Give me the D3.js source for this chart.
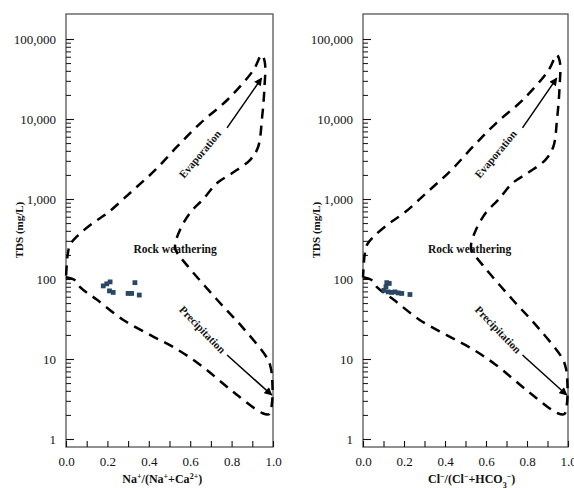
<!DOCTYPE html>
<html><head><meta charset="utf-8">
<script src="https://cdn.jsdelivr.net/npm/d3@7"></script>
<style>
body{margin:0;background:#fff}
svg{display:block}
</style>
</head><body>
<svg id="chart" width="574" height="488"></svg>
<script>
// ---- data ----
const naRatio = [0.18, 0.197, 0.213, 0.21, 0.228, 0.30, 0.317, 0.333, 0.354];
const naTDS   = [82, 87, 92, 71, 68, 66, 66, 90, 63];
const clRatio = [0.116, 0.128, 0.112, 0.102, 0.123, 0.14, 0.156, 0.172, 0.189, 0.229];
const clTDS   = [90, 88, 80, 72, 69, 68, 69, 67, 66, 64];

const yTickValues = [1, 10, 100, 1000, 10000, 100000];
const yTickLabels = ["1", "10", "100", "1,000", "10,000", "100,000"];
const xTickValues = [0, 0.1, 0.2, 0.3, 0.4, 0.5, 0.6, 0.7, 0.8, 0.9, 1.0];
const xTickLabels = ["0.0", "", "0.2", "", "0.4", "", "0.6", "", "0.8", "", "1.0"];

// Gibbs envelope (closed dashed boundary): ratio and TDS
const envRatio = [0.0, 0.045, 0.068, 0.15, 0.275, 0.406, 0.52, 0.647, 0.807, 0.95, 0.982,
                  0.995, 0.997, 0.99, 0.972, 0.855, 0.73, 0.585, 0.53,
                  0.527, 0.55, 0.6, 0.66, 0.73, 0.807, 0.89, 0.928, 0.947, 0.958, 0.96,
                  0.945,
                  0.905, 0.78, 0.65, 0.535, 0.43, 0.32, 0.198, 0.13, 0.056, 0.02,
                  0.008, 0.003, 0.0];
const envTDS   = [105, 96, 79, 55, 31, 20, 14, 8.5, 3.9, 2.1, 2.05,
                  2.8, 5.0, 7.6, 10.2, 24.5, 55, 148, 229,
                  269, 407, 676, 977, 1585, 2138, 3090, 4467, 10230, 22900, 52000,
                  63000,
                  40700, 17400, 8900, 4470, 2290, 1260, 661, 501, 347, 269,
                  200, 141, 105];

const arrowEvap   = {ratio: [0.778, 0.945], tds: [7760, 32400]};
const arrowPrecip = {ratio: [0.778, 0.994], tds: [11.2, 3.55]};

const panels = [
  {left: 66,  right: 273, ratio: naRatio, tds: naTDS, titleCenter: 0.465, rockX: 0.527,
   title: [["Na",0],["+",1],["/(Na",0],["+",1],["+Ca",0],["2+",1],[")",0]]},
  {left: 363, right: 568, ratio: clRatio, tds: clTDS, titleCenter: 0.53, rockX: 0.52,
   title: [["Cl",0],["−",1],["/(Cl",0],["−",1],["+HCO",0],["3",-1],["−",1],[")",0]]}
];

const FONT = "'Liberation Serif', 'Times New Roman', 'DejaVu Serif', serif";
const svg = d3.select("#chart").attr("font-family", FONT);
const plotTop = 14, plotBottom = 447;
const y = d3.scaleLog().domain([Math.pow(10, -0.1), Math.pow(10, 5.3125)]).range([plotBottom, plotTop]);

const minorTicks = [];
for (let d = 1; d <= 10000; d *= 10) for (let m = 2; m <= 9; m++) minorTicks.push(d * m);

svg.append("defs").append("marker")
  .attr("id", "arrowhead").attr("viewBox", "0 0 10 10")
  .attr("refX", 9).attr("refY", 5)
  .attr("markerWidth", 9).attr("markerHeight", 8)
  .attr("markerUnits", "userSpaceOnUse")
  .attr("orient", "auto")
  .append("path").attr("d", "M0,0 L10,5 L0,10 Z").attr("fill", "#000");

panels.forEach(p => {
  const x = d3.scaleLinear().domain([0, 1]).range([p.left, p.right]);
  const g = svg.append("g").attr("font-family", FONT);

  // frame
  g.append("rect").attr("x", x(0)).attr("y", plotTop)
    .attr("width", x(1) - x(0)).attr("height", plotBottom - plotTop)
    .attr("fill", "none").attr("stroke", "#555").attr("stroke-width", 1.3);

  // y axis (inward ticks)
  const yAx = g.append("g").attr("transform", `translate(${x(0)},0)`)
    .call(d3.axisLeft(y).tickValues(yTickValues)
      .tickFormat((d, i) => yTickLabels[i]).tickSizeInner(-8).tickSizeOuter(0).tickPadding(10));
  yAx.attr("font-family", FONT).attr("font-size", 13);
  yAx.select(".domain").remove();
  yAx.selectAll("text").attr("fill", "#111");
  yAx.selectAll("line").attr("stroke", "#111").attr("stroke-width", 1.1);

  const yMin = g.append("g").attr("transform", `translate(${x(0)},0)`)
    .call(d3.axisLeft(y).tickValues(minorTicks).tickFormat("").tickSizeInner(-5).tickSizeOuter(0));
  yMin.select(".domain").remove();
  yMin.selectAll("line").attr("stroke", "#111").attr("stroke-width", 1);

  // x axis (inward ticks)
  const xAx = g.append("g").attr("transform", `translate(0,${plotBottom})`)
    .call(d3.axisBottom(x).tickValues(xTickValues)
      .tickFormat((d, i) => xTickLabels[i]).tickSizeInner(-6).tickSizeOuter(0).tickPadding(10));
  xAx.attr("font-family", FONT).attr("font-size", 13);
  xAx.select(".domain").remove();
  xAx.selectAll("text").attr("fill", "#111");
  xAx.selectAll("line").attr("stroke", "#111").attr("stroke-width", 1.1);

  // y title
  g.append("text")
    .attr("transform", `translate(${x(0) - 46},${230}) rotate(-90)`)
    .attr("text-anchor", "middle").attr("dominant-baseline", "middle")
    .attr("font-size", 11).attr("font-weight", "bold").attr("fill", "#111")
    .text("TDS (mg/L)");

  // x title
  const xt = g.append("text")
    .attr("x", x(p.titleCenter)).attr("y", 483)
    .attr("text-anchor", "middle").attr("fill", "#111")
    .attr("font-size", 12).attr("font-weight", "bold");
  p.title.forEach(([s, sh]) => {
    const t = xt.append("tspan").text(s);
    if (sh === 1) t.attr("font-size", 8).attr("baseline-shift", "super");
    else if (sh === -1) t.attr("font-size", 8).attr("baseline-shift", "sub");
  });

  // labels
  g.append("text")
    .attr("x", x(p.rockX)).attr("y", y(214))
    .attr("text-anchor", "middle").attr("fill", "#111")
    .attr("font-size", 11.5).attr("font-weight", "bold")
    .text("Rock weathering");

  g.append("text")
    .attr("transform", `translate(${x(0.652)},${y(3550)}) rotate(-50)`)
    .attr("text-anchor", "middle").attr("dominant-baseline", "middle").attr("fill", "#111")
    .attr("font-size", 11).attr("font-weight", "bold")
    .text("Evaporation");

  g.append("text")
    .attr("transform", `translate(${x(0.655)},${y(22.7)}) rotate(46)`)
    .attr("text-anchor", "middle").attr("dominant-baseline", "middle").attr("fill", "#111")
    .attr("font-size", 11).attr("font-weight", "bold")
    .text("Precipitation");

  // envelope
  const env = envRatio.map((r, i) => [r, envTDS[i]]);
  g.append("path")
    .attr("d", d3.line().x(d => x(d[0])).y(d => y(d[1])).curve(d3.curveCatmullRom.alpha(0.5))(env))
    .attr("fill", "none").attr("stroke", "#000").attr("stroke-width", 2.5)
    .attr("stroke-dasharray", "10,7");

  // arrows
  [arrowEvap, arrowPrecip].forEach(a => {
    g.append("line")
      .attr("x1", x(a.ratio[0])).attr("y1", y(a.tds[0]))
      .attr("x2", x(a.ratio[1])).attr("y2", y(a.tds[1]))
      .attr("stroke", "#000").attr("stroke-width", 1.5)
      .attr("marker-end", "url(#arrowhead)");
  });

  // samples
  g.selectAll("rect.pt").data(p.ratio.map((r, i) => [r, p.tds[i]]))
    .enter().append("rect").attr("class", "pt")
    .attr("x", d => x(d[0]) - 2.4).attr("y", d => y(d[1]) - 2.4)
    .attr("width", 4.8).attr("height", 4.8)
    .attr("fill", "#2b4766");
});
</script>
</body></html>
